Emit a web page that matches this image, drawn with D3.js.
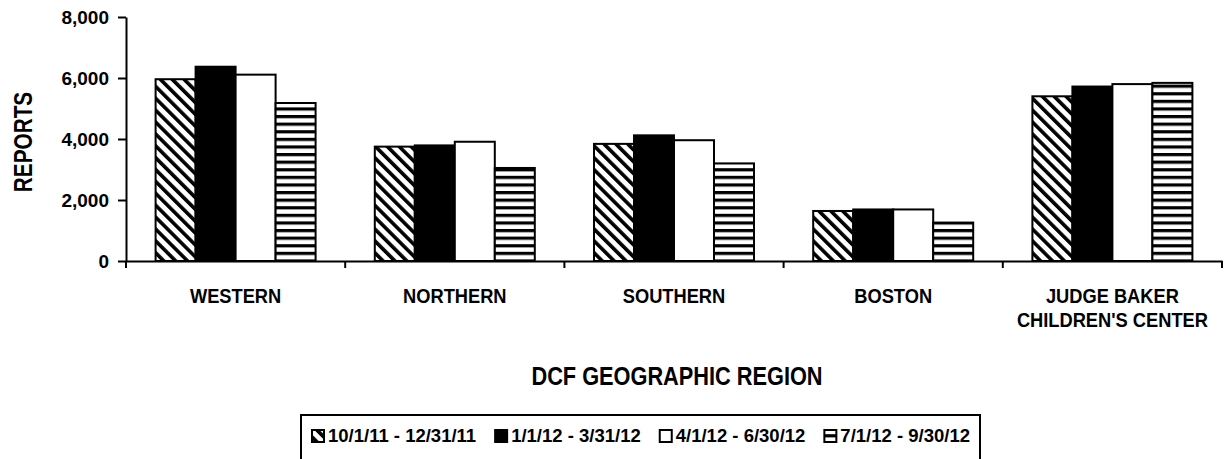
<!DOCTYPE html>
<html>
<head>
<meta charset="utf-8">
<script src="https://cdn.jsdelivr.net/npm/d3@7"></script>
<style>
  html, body { margin: 0; padding: 0; background: #fff; }
  svg { display: block; }
  text { font-family: "Liberation Sans", Arial, sans-serif; font-weight: bold; fill: #000; }
</style>
</head>
<body>
<svg width="1230" height="459"></svg>
<script>
const categories = ['WESTERN', 'NORTHERN', 'SOUTHERN', 'BOSTON', 'JUDGE BAKER CHILDREN\'S CENTER']
const categoryLines = [['WESTERN'], ['NORTHERN'], ['SOUTHERN'], ['BOSTON'], ['JUDGE BAKER', 'CHILDREN\'S CENTER']]
const series = ['10/1/11 - 12/31/11', '1/1/12 - 3/31/12', '4/1/12 - 6/30/12', '7/1/12 - 9/30/12']
const q1 = [5960, 3750, 3840, 1640, 5400]
const q2 = [6370, 3790, 4120, 1690, 5720]
const q3 = [6110, 3910, 3960, 1690, 5800]
const q4 = [5180, 3050, 3200, 1260, 5840]
const values = [q1, q2, q3, q4]
const yTicks = [0, 2000, 4000, 6000, 8000]

const svg = d3.select('svg')
const defs = svg.append('defs')

// fills: diagonal hatch, solid black, white, horizontal stripes
const diag = defs.append('pattern')
  .attr('id', 'diag')
  .attr('patternUnits', 'userSpaceOnUse')
  .attr('width', 8.4).attr('height', 8.4)
  .attr('patternTransform', 'rotate(-45)')
diag.append('rect').attr('width', 8.4).attr('height', 8.4).attr('fill', '#fff')
diag.append('rect').attr('width', 3.6).attr('height', 8.4).attr('fill', '#000')

const horiz = defs.append('pattern')
  .attr('id', 'horiz')
  .attr('patternUnits', 'userSpaceOnUse')
  .attr('width', 10).attr('height', 7.6)
  .attr('y', 1)
horiz.append('rect').attr('width', 10).attr('height', 7.6).attr('fill', '#fff')
horiz.append('rect').attr('width', 10).attr('height', 3.2).attr('fill', '#000')

const fills = ['url(#diag)', '#000', '#fff', 'url(#horiz)']

const x = d3.scaleBand().domain(categories).range([126, 1222])
const x1 = d3.scaleBand().domain(series).range([0, x.bandwidth()]).paddingOuter(0.74)
const y = d3.scaleLinear().domain([0, 8000]).range([261, 17])

// bars
const groups = svg.append('g')
  .selectAll('g')
  .data(categories)
  .join('g')
  .attr('transform', (d) => `translate(${x(d)},0)`)

groups.selectAll('rect')
  .data((d, i) => series.map((s, j) => ({ s, j, v: values[j][i] })))
  .join('rect')
  .attr('x', (d) => x1(d.s))
  .attr('width', x1.bandwidth())
  .attr('y', (d) => y(d.v))
  .attr('height', (d) => y(0) - y(d.v))
  .attr('fill', (d) => fills[d.j])
  .attr('stroke', '#000')
  .attr('stroke-width', 2)

// y axis
const yAxis = svg.append('g')
  .attr('transform', 'translate(126,0)')
  .call(d3.axisLeft(y).tickValues(yTicks).tickSize(8).tickSizeOuter(0).tickPadding(9).tickFormat(d3.format(',')))
yAxis.select('.domain').attr('stroke-width', 2)
yAxis.selectAll('.tick line').attr('stroke-width', 2)
yAxis.selectAll('.tick text').style('font-size', '19px')

// x axis with ticks on the category boundaries
const xAxis = svg.append('g')
  .attr('transform', 'translate(0,261)')
  .call(d3.axisBottom(x).tickSize(0).tickSizeOuter(0).tickFormat(''))
xAxis.select('.domain').attr('stroke-width', 2)
const bounds = categories.map((c) => x(c)).concat([x.range()[1]])
xAxis.selectAll('.bound')
  .data(bounds)
  .join('line')
  .attr('class', 'bound')
  .attr('x1', (d) => d).attr('x2', (d) => d)
  .attr('y1', 0).attr('y2', 7)
  .attr('stroke', '#000')
  .attr('stroke-width', 2)

// category labels (squeezed a little, the original uses a narrow face)
svg.append('g')
  .selectAll('text')
  .data(categories)
  .join('text')
  .attr('text-anchor', 'middle')
  .attr('transform', (d) => `translate(${x(d) + x.bandwidth() / 2},303) scale(0.87,1)`)
  .style('font-size', '21px')
  .each(function (d, i) {
    d3.select(this).selectAll('tspan')
      .data(categoryLines[i])
      .join('tspan')
      .attr('x', 0)
      .attr('dy', (t, k) => (k === 0 ? 0 : 24))
      .text((t) => t)
  })

// axis titles
svg.append('text')
  .attr('transform', 'translate(677,385) scale(0.87,1)')
  .attr('text-anchor', 'middle')
  .style('font-size', '25px')
  .text('DCF GEOGRAPHIC REGION')

svg.append('text')
  .attr('transform', 'translate(32,142) rotate(-90) scale(0.83,1)')
  .attr('text-anchor', 'middle')
  .style('font-size', '25px')
  .text('REPORTS')

// legend
svg.append('rect')
  .attr('x', 301).attr('y', 415)
  .attr('width', 679).attr('height', 70)
  .attr('fill', '#fff')
  .attr('stroke', '#000')
  .attr('stroke-width', 2)

const legend = svg.append('g')
let lx = 312
series.forEach((s, j) => {
  const item = legend.append('g').attr('transform', `translate(${lx},0)`)
  item.append('rect')
    .attr('x', 0).attr('y', 430)
    .attr('width', 12).attr('height', 12)
    .attr('fill', fills[j])
    .attr('stroke', '#000')
    .attr('stroke-width', 2)
  const t = item.append('text')
    .attr('x', 16).attr('y', 442)
    .style('font-size', '18.5px')
    .text(s)
  lx += 16 + t.node().getComputedTextLength() + 19
})
</script>
</body>
</html>
